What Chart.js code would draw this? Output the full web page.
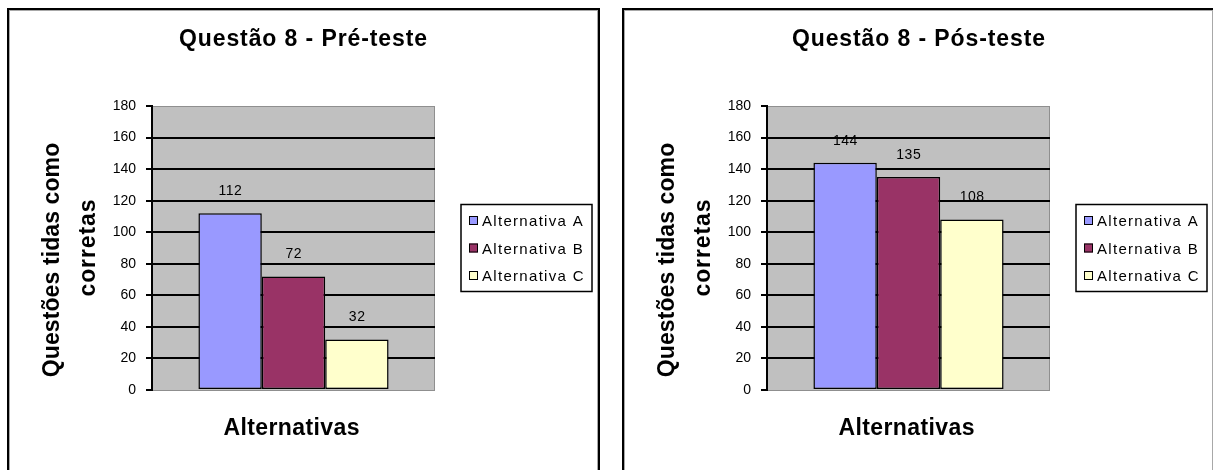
<!DOCTYPE html>
<html>
<head>
<meta charset="utf-8">
<script src="https://cdn.jsdelivr.net/npm/chart.js@4.4.1/dist/chart.umd.min.js"></script>
<style>
  html, body { margin: 0; padding: 0; background: #fff; }
  body { width: 1213px; height: 470px; position: relative; overflow: hidden; }
  .panel {
    position: absolute; top: 8px; width: 593px; height: 480px;
    box-sizing: border-box; border: 2px solid #000; border-bottom: none;
    background: #fff;
    box-shadow: inset 1px 1px 0 #a8a8a8, inset -1px 0 0 #a8a8a8;
  }
  canvas { position: absolute; top: 10px; }
</style>
</head>
<body>
<div class="panel" style="left:7px"></div>
<div class="panel" style="left:622px"></div>
<canvas id="pre" width="588" height="460" style="left:9px"></canvas>
<canvas id="pos" width="589" height="460" style="left:624px"></canvas>
<script>
// Series and values
const categories = [''];
const seriesLabels = ['Alternativa A', 'Alternativa B', 'Alternativa C'];
const preTeste = [112, 72, 32];
const posTeste = [144, 135, 108];
const yTickValues = [0, 20, 40, 60, 80, 100, 120, 140, 160, 180];

const titles = ['Questão 8 - Pré-teste', 'Questão 8 - Pós-teste'];
const yTitleLines = ['Questões tidas como', 'corretas'];
const xTitle = 'Alternativas';

const seriesColors = ['#9999FF', '#993366', '#FFFFCC'];
const FONT = "'Liberation Sans', Arial, sans-serif";

// Plot rectangle inside each canvas
const AREA = { left: 143, right: 426, top: 96, bottom: 380 };
const Y_AXIS_W = 40;

// Text with letter spacing, placed by its left edge, centre or rotated centre
function spacedText(ctx, text, x, y, o) {
  ctx.save();
  ctx.font = (o.bold ? 'bold ' : '') + o.size + 'px ' + FONT;
  ctx.fillStyle = '#000';
  ctx.textBaseline = o.baseline || 'alphabetic';
  ctx.textAlign = 'left';
  ctx.letterSpacing = '0px';
  const n = Array.from(text).length;
  const w = ctx.measureText(text).width + o.spacing * (n - 1);
  ctx.letterSpacing = o.spacing + 'px';
  if (o.rotate) {
    ctx.translate(x, y);
    ctx.rotate(-Math.PI / 2);
    ctx.fillText(text, -w / 2, 0);
  } else {
    const x0 = o.align === 'center' ? x - w / 2 : x;
    ctx.fillText(text, x0, y);
  }
  ctx.restore();
}

const panelDecor = {
  id: 'panelDecor',
  beforeDraw(chart) {
    const { ctx, chartArea: a } = chart;
    ctx.save();
    ctx.fillStyle = '#C0C0C0';
    ctx.fillRect(a.left, a.top, a.right - a.left, a.bottom - a.top);
    ctx.strokeStyle = '#8f8f8f';
    ctx.lineWidth = 1;
    ctx.strokeRect(a.left + 0.5, a.top + 0.5, a.right - a.left - 1, a.bottom - a.top);
    ctx.restore();
  },
  afterDraw(chart, args, opts) {
    const { ctx, chartArea: a } = chart;
    const cx = (a.left + a.right) / 2;
    const cy = (a.top + a.bottom) / 2;

    // chart title
    spacedText(ctx, opts.title, chart.width / 2, 36, { size: 23, bold: true, spacing: 0.9, align: 'center' });

    // axis titles
    spacedText(ctx, yTitleLines[0], 50, cy + 12, { size: 23, bold: true, spacing: 0.1, rotate: true });
    spacedText(ctx, yTitleLines[1], 86, cy, { size: 23, bold: true, spacing: 0.9, rotate: true });
    spacedText(ctx, xTitle, cx - 2, 425, { size: 23, bold: true, spacing: 0.4, align: 'center' });

    // value labels above each bar
    chart.data.datasets.forEach((ds, i) => {
      chart.getDatasetMeta(i).data.forEach((bar, j) => {
        spacedText(ctx, String(ds.data[j]), bar.x, bar.y - 22,
          { size: 14, spacing: 0.5, align: 'center', baseline: 'middle' });
      });
    });

    // legend box
    const lx = a.right + 26, lw = 131, lh = 87;
    const ly = cy - lh / 2;
    ctx.save();
    ctx.fillStyle = '#fff';
    ctx.fillRect(lx, ly, lw, lh);
    ctx.strokeStyle = '#000';
    ctx.lineWidth = 1.5;
    ctx.strokeRect(lx, ly, lw, lh);
    chart.data.datasets.forEach((ds, i) => {
      const ry = cy + (i - 1) * 27.5;
      ctx.fillStyle = ds.backgroundColor;
      ctx.fillRect(lx + 8, ry - 4.5, 9, 9);
      ctx.lineWidth = 1;
      ctx.strokeStyle = '#000';
      ctx.strokeRect(lx + 8.5, ry - 4, 8, 8);
      spacedText(ctx, ds.label, lx + 21, ry + 5.5, { size: 15, spacing: 1.3 });
    });
    ctx.restore();
  }
};

function makeChart(id, values, title) {
  const canvas = document.getElementById(id);
  const W = canvas.width, H = canvas.height;
  return new Chart(canvas, {
    type: 'bar',
    data: {
      labels: categories,
      datasets: seriesLabels.map((label, i) => ({
        label,
        data: [values[i]],
        backgroundColor: seriesColors[i]
      }))
    },
    options: {
      responsive: false,
      animation: false,
      layout: {
        padding: {
          left: AREA.left - Y_AXIS_W,
          right: W - AREA.right,
          top: AREA.top,
          bottom: H - AREA.bottom
        }
      },
      datasets: {
        bar: {
          categoryPercentage: 0.672,
          barPercentage: 1,
          borderColor: '#000',
          borderWidth: 1.5,
          borderSkipped: false
        }
      },
      plugins: {
        legend: { display: false },
        title: { display: false },
        tooltip: { enabled: false },
        panelDecor: { title }
      },
      scales: {
        x: { display: false, offset: true },
        y: {
          min: 0,
          max: 180,
          afterFit(scale) { scale.width = Y_AXIS_W; },
          afterBuildTicks(scale) { scale.ticks = yTickValues.map(v => ({ value: v })); },
          ticks: { color: '#000', padding: 10, font: { family: FONT, size: 14 } },
          grid: {
            color: c => (c.tick && (c.tick.value === 0 || c.tick.value === 180)) ? 'rgba(0,0,0,0)' : '#000',
            lineWidth: 2,
            tickLength: 6,
            tickColor: '#000',
            tickWidth: 2
          },
          border: { color: '#000', width: 2 }
        }
      }
    },
    plugins: [panelDecor]
  });
}

makeChart('pre', preTeste, titles[0]);
makeChart('pos', posTeste, titles[1]);
</script>
</body>
</html>
